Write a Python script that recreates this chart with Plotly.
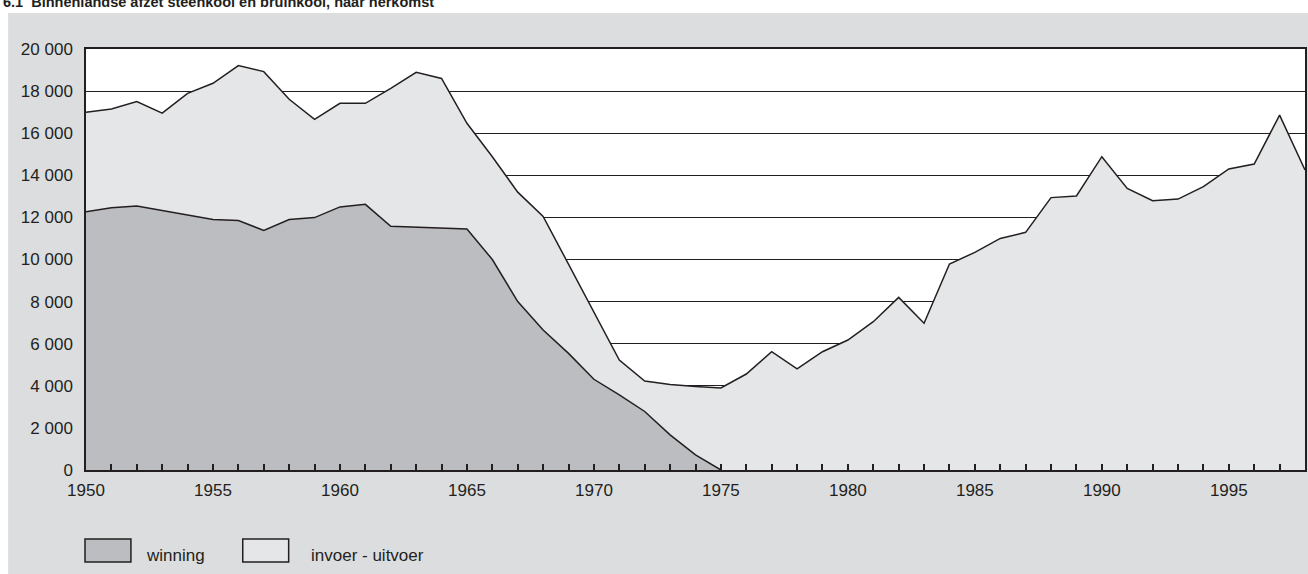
import plotly.graph_objects as go

# ---- data ----
years = list(range(1950, 1999))

# total domestic sales (top of the light area) = winning + (invoer - uitvoer)
afzet_totaal = [
    16990, 17150, 17500, 16950, 17890, 18370, 19210, 18925, 17610, 16660,
    17420, 17420, 18130, 18890, 18600, 16470, 14880, 13200, 12050, 9780,
    7480, 5225, 4230, 4060, 3970, 3900, 4560, 5620, 4800, 5620,
    6175, 7045, 8200, 6970, 9785, 10340, 11000, 11290, 12940, 13015,
    14885, 13380, 12795, 12870, 13460, 14300, 14535, 16860, 14250,
]

winning_years = list(range(1950, 1976))
winning = [
    12270, 12460, 12540, 12320, 12100, 11900, 11850, 11380, 11900, 11990,
    12500, 12620, 11580, 11530, 11500, 11450, 10000, 8000, 6650, 5540,
    4310, 3570, 2780, 1670, 720, 0,
]

y_tickvals = [0, 2000, 4000, 6000, 8000, 10000, 12000, 14000, 16000, 18000, 20000]
y_ticktext = ["0", "2 000", "4 000", "6 000", "8 000", "10 000", "12 000",
              "14 000", "16 000", "18 000", "20 000"]
x_tickvals = [1950, 1955, 1960, 1965, 1970, 1975, 1980, 1985, 1990, 1995]
x_ticktext = [str(v) for v in x_tickvals]

legend_labels = ["winning", "invoer - uitvoer"]
title_text = "6.1  Binnenlandse afzet steenkool en bruinkool, naar herkomst"

# ---- style ----
DARK = "#231f20"
PANEL = "#dcdddf"
LIGHT = "#e5e6e8"
MID = "#bcbdc1"
FONT = "Liberation Sans, Arial, sans-serif"

W, H = 1308, 574
L, R, T, B = 86, 1, 49, 104
PW = W - L - R
PH = H - T - B


def px_x(px):
    return (px - L) / PW


def px_y(py):
    return (H - B - py) / PH


fig = go.Figure()

fig.add_trace(go.Scatter(
    x=years, y=afzet_totaal, mode="lines", fill="tozeroy",
    fillcolor=LIGHT, line=dict(color=DARK, width=1.5),
    name=legend_labels[1], showlegend=False, hoverinfo="x+y",
))
fig.add_trace(go.Scatter(
    x=winning_years, y=winning, mode="lines", fill="tozeroy",
    fillcolor=MID, line=dict(color=DARK, width=1.5),
    name=legend_labels[0], showlegend=False, hoverinfo="x+y",
))

shapes = [
    # white strips around the grey panel (top and left)
    dict(type="rect", xref="paper", yref="paper",
         x0=px_x(-5), x1=px_x(W + 5), y0=px_y(13), y1=px_y(-5),
         fillcolor="white", line=dict(width=0), layer="below"),
    dict(type="rect", xref="paper", yref="paper",
         x0=px_x(-5), x1=px_x(8), y0=px_y(H + 5), y1=px_y(-5),
         fillcolor="white", line=dict(width=0), layer="below"),
    # legend boxes
    dict(type="rect", xref="paper", yref="paper",
         x0=px_x(85), x1=px_x(131), y0=px_y(562), y1=px_y(539),
         fillcolor=MID, line=dict(color=DARK, width=1.5)),
    dict(type="rect", xref="paper", yref="paper",
         x0=px_x(243), x1=px_x(289), y0=px_y(562), y1=px_y(539),
         fillcolor=LIGHT, line=dict(color=DARK, width=1.5)),
]

annotations = [
    dict(text=legend_labels[0], xref="paper", yref="paper",
         x=px_x(144), y=px_y(555), xanchor="left", yanchor="middle",
         showarrow=False, font=dict(family=FONT, size=17, color=DARK)),
    dict(text=legend_labels[1], xref="paper", yref="paper",
         x=px_x(309), y=px_y(555), xanchor="left", yanchor="middle",
         showarrow=False, font=dict(family=FONT, size=17, color=DARK)),
    dict(text="<b>" + title_text + "</b>", xref="paper", yref="paper",
         x=px_x(1), y=px_y(12), xanchor="left", yanchor="bottom",
         showarrow=False, font=dict(family=FONT, size=14.5, color=DARK)),
]

fig.update_layout(
    width=W, height=H,
    margin=dict(l=L, r=R, t=T, b=B, pad=0),
    paper_bgcolor=PANEL,
    plot_bgcolor="white",
    font=dict(family=FONT, size=17, color=DARK),
    shapes=shapes,
    annotations=annotations,
    showlegend=False,
)

fig.update_xaxes(
    range=[1950, 1998],
    tickvals=x_tickvals, ticktext=x_ticktext,
    ticks="inside", ticklen=6, tickwidth=1.5, tickcolor=DARK,
    minor=dict(dtick=1, tick0=1950, ticks="inside", ticklen=6,
               tickwidth=1.5, tickcolor=DARK, showgrid=False),
    showgrid=False, zeroline=False,
    showline=True, linecolor=DARK, linewidth=1.5, mirror=True,
    ticklabelstandoff=4,
    tickfont=dict(family=FONT, size=17, color=DARK),
)

fig.update_yaxes(
    range=[0, 20000],
    tickvals=y_tickvals, ticktext=y_ticktext,
    ticks="", showgrid=True, gridcolor=DARK, gridwidth=1.3,
    zeroline=False,
    showline=True, linecolor=DARK, linewidth=1.5, mirror=True,
    ticklabelstandoff=8,
    tickfont=dict(family=FONT, size=17, color=DARK),
)

fig.write_html(
    "out.html",
    config={"displayModeBar": False},
    post_script="document.body.style.margin='0';document.body.style.overflow='hidden';",
)
